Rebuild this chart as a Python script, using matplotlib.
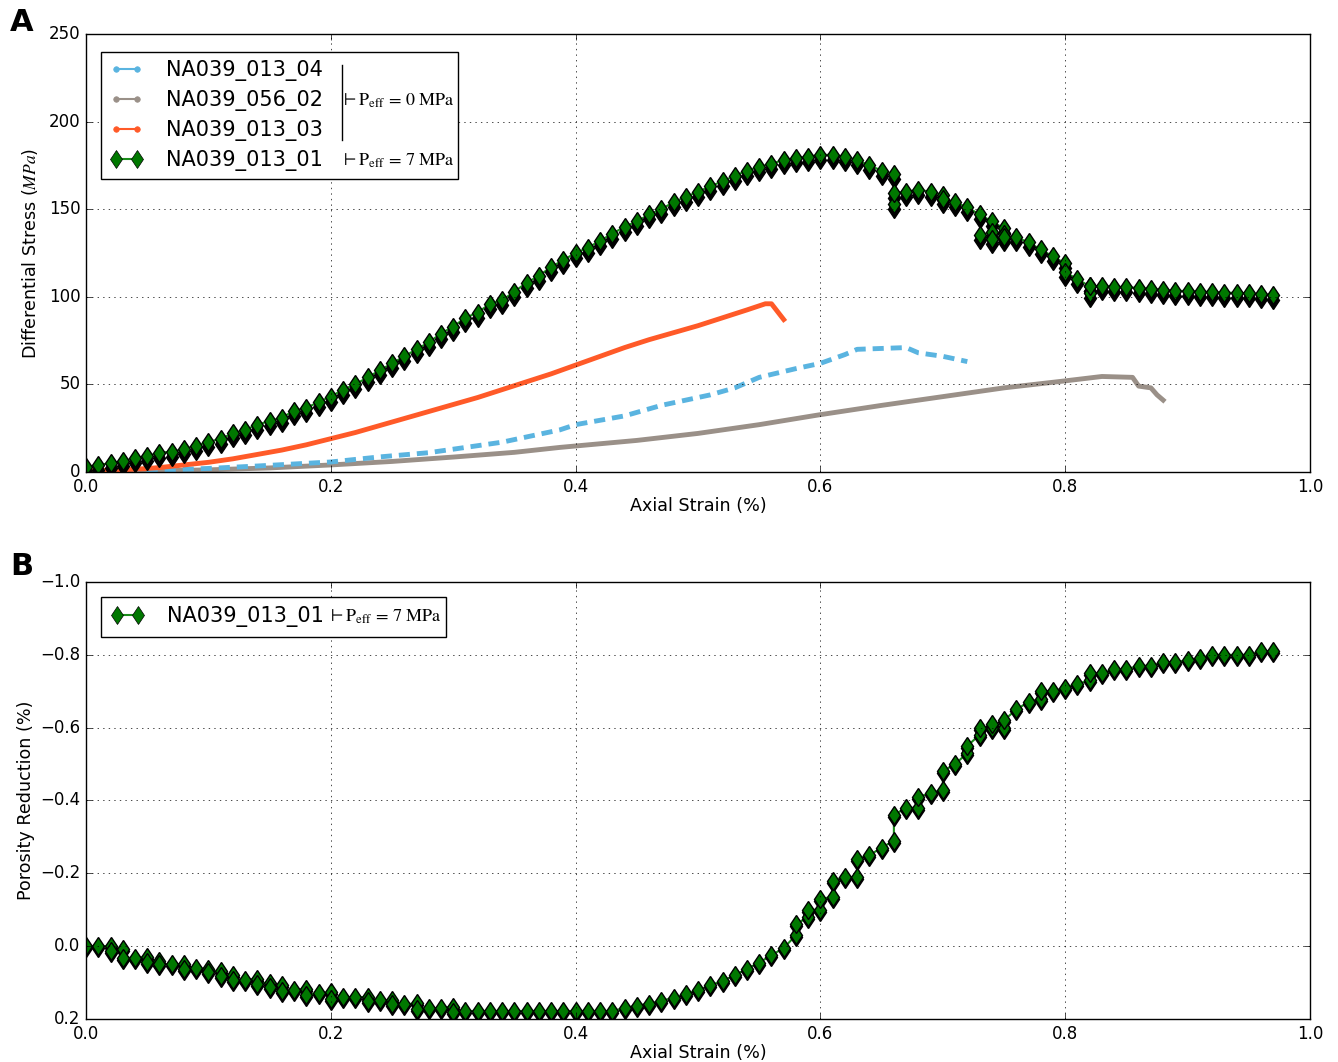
import matplotlib
matplotlib.use('Agg')
import matplotlib.pyplot as plt
from matplotlib.lines import Line2D
from matplotlib.patches import Rectangle
from matplotlib.transforms import ScaledTranslation, Bbox

plt.style.use('classic')
plt.rcParams['figure.facecolor'] = 'white'
plt.rcParams['savefig.facecolor'] = 'white'
plt.rcParams['mathtext.fontset'] = 'stix'

# --- NA039_013_01 (Peff = 7 MPa), stress vs strain ---
strain_01 = [i / 100 for i in range(66)] + [
    0.66, 0.66, 0.66, 0.67, 0.68, 0.69, 0.70, 0.70, 0.71, 0.72, 0.73, 0.74, 0.75,
    0.75, 0.74, 0.73, 0.74, 0.75, 0.76, 0.77, 0.78, 0.79, 0.80, 0.80, 0.81, 0.82,
    0.82, 0.82, 0.83, 0.84, 0.85, 0.86, 0.87, 0.88, 0.89, 0.90, 0.91, 0.92, 0.93,
    0.94, 0.95, 0.96, 0.97]
stress_01 = [
    2.9, 4, 5, 6, 8, 9, 11, 11.6, 13, 15, 17, 19, 22, 24, 27, 29, 31, 35, 36.5, 40,
    43, 47, 50, 54, 58, 62, 66, 70, 74, 79, 83, 88, 91, 96, 98, 103, 108, 112, 117,
    121, 125, 128, 132, 136, 140, 143, 147, 150, 154, 157, 160, 163, 166, 169, 172,
    174, 176, 178, 179, 180, 181, 181, 180, 178, 175, 172,
    170, 153, 159, 160, 161, 160, 158, 156, 154, 151, 147, 143, 139,
    136, 137, 135, 133, 134, 134, 131, 127, 123, 119, 114, 110, 106,
    102, 106, 106, 105.8, 105.5, 105, 104.5, 104, 103.5, 103.2, 103, 102.7, 102.4,
    102.2, 102, 101.5, 101]

# --- NA039_013_03 (Peff = 0 MPa) ---
strain_03 = [0.0, 0.02, 0.04, 0.06, 0.08, 0.10, 0.12, 0.14, 0.16, 0.18, 0.20, 0.22,
             0.24, 0.26, 0.28, 0.30, 0.32, 0.34, 0.36, 0.38, 0.40, 0.42, 0.44, 0.46,
             0.48, 0.50, 0.52, 0.54, 0.555, 0.56, 0.57]
stress_03 = [0.5, 1, 1.5, 2.5, 4, 5.5, 7.5, 10, 12.5, 15.5, 19, 22.5, 26.5, 30.5,
             34.5, 38.5, 42.5, 47, 51.5, 56, 61, 66, 71, 75.5, 79.5, 83.5, 88, 92.5,
             96, 96, 87]

# --- NA039_013_04 (Peff = 0 MPa) ---
strain_04 = [0.02, 0.06, 0.10, 0.14, 0.20, 0.24, 0.28, 0.30, 0.32, 0.34, 0.36, 0.387,
             0.40, 0.44, 0.47, 0.51, 0.53, 0.55, 0.58, 0.60, 0.62, 0.63, 0.67, 0.68,
             0.70, 0.72]
stress_04 = [0.3, 1, 2, 3.4, 5.7, 8.6, 11, 13, 15, 17, 20, 24, 27, 32, 38, 44, 48,
             54, 59, 62, 67, 70, 71, 68, 66, 63]

# --- NA039_056_02 (Peff = 0 MPa) ---
strain_02 = [0.0, 0.05, 0.10, 0.15, 0.20, 0.25, 0.30, 0.35, 0.387, 0.45, 0.50, 0.55,
             0.598, 0.65, 0.70, 0.75, 0.80, 0.83, 0.855, 0.86, 0.87, 0.875, 0.88]
stress_02 = [0, 0.5, 1.2, 2.3, 4, 6, 8.5, 11.2, 14, 18, 22, 27, 32.5, 38, 43, 48, 52,
             54.5, 54, 49, 48, 44, 41]

# --- NA039_013_01 porosity reduction ---
strain_por = [
    0.00, 0.01, 0.02, 0.02, 0.03, 0.03, 0.04, 0.05, 0.05, 0.06, 0.06, 0.07, 0.08,
    0.08, 0.09, 0.10, 0.10, 0.11, 0.11, 0.12, 0.12, 0.13, 0.14, 0.14, 0.15, 0.15,
    0.16, 0.16, 0.17, 0.18, 0.18, 0.19, 0.20, 0.20, 0.21, 0.22, 0.23, 0.23, 0.24,
    0.25, 0.25, 0.26, 0.27, 0.27, 0.28, 0.29, 0.30, 0.30, 0.31, 0.32, 0.33, 0.34,
    0.35, 0.36, 0.37, 0.38, 0.39, 0.40, 0.41, 0.42, 0.43, 0.44, 0.45, 0.46, 0.47,
    0.48, 0.49, 0.50, 0.51, 0.52, 0.53, 0.54, 0.55, 0.56, 0.57, 0.58, 0.58, 0.59,
    0.59, 0.60, 0.60, 0.61, 0.61, 0.62, 0.63, 0.63, 0.64, 0.65, 0.66, 0.66, 0.67,
    0.68, 0.68, 0.69, 0.70, 0.70, 0.71, 0.72, 0.72, 0.73, 0.73, 0.74, 0.74, 0.75,
    0.75, 0.76, 0.77, 0.78, 0.78, 0.79, 0.80, 0.81, 0.82, 0.82, 0.83, 0.84, 0.85,
    0.86, 0.87, 0.88, 0.89, 0.90, 0.91, 0.92, 0.93, 0.94, 0.95, 0.96, 0.97]
porosity = [
    0.0, 0.0, 0.0, 0.012, 0.007, 0.032, 0.032, 0.03, 0.044, 0.04, 0.048, 0.05, 0.05,
    0.062, 0.061, 0.062, 0.071, 0.067, 0.083, 0.08, 0.093, 0.092, 0.09, 0.103, 0.10,
    0.113, 0.108, 0.122, 0.12, 0.117, 0.133, 0.13, 0.126, 0.145, 0.14, 0.14, 0.14,
    0.15, 0.148, 0.148, 0.16, 0.16, 0.157, 0.172, 0.17, 0.17, 0.166, 0.182, 0.178,
    0.178, 0.178, 0.178, 0.178, 0.178, 0.178, 0.178, 0.178, 0.178, 0.178, 0.178,
    0.178, 0.17, 0.163, 0.158, 0.15, 0.142, 0.132, 0.12, 0.108, 0.095, 0.08, 0.062,
    0.045, 0.025, 0.005, -0.03, -0.06, -0.08, -0.1, -0.1, -0.13, -0.135, -0.18,
    -0.19, -0.19, -0.24, -0.25, -0.27, -0.29, -0.36, -0.38, -0.38, -0.41, -0.42,
    -0.43, -0.48, -0.5, -0.53, -0.55, -0.58, -0.6, -0.6, -0.61, -0.6, -0.62, -0.65,
    -0.67, -0.68, -0.7, -0.7, -0.71, -0.72, -0.73, -0.75, -0.75, -0.76, -0.76,
    -0.77, -0.77, -0.78, -0.78, -0.785, -0.79, -0.8, -0.8, -0.8, -0.8, -0.81, -0.81]

names = ['NA039_013_04', 'NA039_056_02', 'NA039_013_03', 'NA039_013_01']
peff_0 = r'$\vdash\mathrm{P_{eff}}\,=\,0\ \mathrm{MPa}$'
peff_7 = r'$\vdash\mathrm{P_{eff}}\,=\,7\ \mathrm{MPa}$'

c_blue = '#5ab4e0'
c_grey = '#9a9088'
c_orange = '#ff5a28'
c_green = '#1a8c1a'
c_fill = '#007800'

fig = plt.figure(figsize=(13.38, 10.62), dpi=100)
ax1 = fig.add_axes([0.0643, 0.5556, 0.9148, 0.4124])
ax2 = fig.add_axes([0.0643, 0.0405, 0.9148, 0.4115])


def diamonds(ax, x, y, drop):
    # black copy shifted down a little under the green markers
    shift = ax.transData + ScaledTranslation(0, -drop / 100, fig.dpi_scale_trans)
    ax.plot(x, y, ls='none', marker='d', ms=9.5, mfc='k', mec='k', mew=1,
            transform=shift)
    ax.plot(x, y, ls='none', marker='d', ms=9.5, mfc=c_fill, mec='k', mew=1)


# panel A
ax1.plot(strain_02, stress_02, color=c_grey, lw=3.5)
ax1.plot(strain_04, stress_04, color=c_blue, lw=3.5, dashes=(8, 5))
ax1.plot(strain_03, stress_03, color=c_orange, lw=3.5)
ax1.plot(strain_01, stress_01, color=c_green, lw=1.5)
diamonds(ax1, strain_01, stress_01, 5)
ax1.set_xlim(0, 1.0)
ax1.set_ylim(0, 250)
ax1.set_xticks([0.0, 0.2, 0.4, 0.6, 0.8, 1.0])
ax1.set_yticks([0, 50, 100, 150, 200, 250])
ax1.grid(True, ls=':', color='k')
ax1.set_xlabel('Axial Strain (%)', fontsize=12.6)
ax1.set_ylabel('Differential Stress ($MPa$)', fontsize=12.6)
ax1.yaxis.set_label_coords(-0.0376, 0.5)
ax1.xaxis.set_label_coords(0.5, -0.057)

h_dot = [Line2D([], [], color=c, lw=1.5, marker='o', ms=4, mec=c)
         for c in (c_blue, c_grey, c_orange)]
h_dia = Line2D([], [], color=c_green, lw=1.5, marker='d', ms=9.5, mfc=c_fill, mec='k')

# legends drawn without their own frame; one frame is drawn later around
# the names and the Peff notes together
leg_a = ax1.legend(h_dot + [h_dia], names, loc='upper left',
                   bbox_to_anchor=(0.0123, 0.959), borderaxespad=0, fontsize=15,
                   numpoints=2, handlelength=1.6, handletextpad=1.1,
                   labelspacing=0.43, borderpad=0.4, frameon=False)

# panel B
ax2.plot(strain_por, porosity, color=c_green, lw=1.5)
diamonds(ax2, strain_por, porosity, 2)
ax2.set_xlim(0, 1.0)
ax2.set_ylim(0.2, -1.0)
ax2.set_xticks([0.0, 0.2, 0.4, 0.6, 0.8, 1.0])
ax2.set_yticks([0.2, 0.0, -0.2, -0.4, -0.6, -0.8, -1.0])
ax2.grid(True, ls=':', color='k')
ax2.set_xlabel('Axial Strain (%)', fontsize=12.6)
ax2.set_ylabel('Porosity Reduction (%)', fontsize=12.6)
ax2.yaxis.set_label_coords(-0.042, 0.5)
ax2.xaxis.set_label_coords(0.5, -0.057)
leg_b = ax2.legend([h_dia], [names[3]], loc='upper left',
                   bbox_to_anchor=(0.0123, 0.966), borderaxespad=0, fontsize=15,
                   numpoints=2, handlelength=1.6, handletextpad=1.1, borderpad=0.45,
                   frameon=False)

fig.text(0.0075, 0.979, 'A', fontsize=22, weight='bold', va='center')
fig.text(0.0075, 0.467, 'B', fontsize=22, weight='bold', va='center')

fig.canvas.draw()
r = fig.canvas.get_renderer()


def note(ax, text_obj, s, gap):
    b = text_obj.get_window_extent(r)
    t = ax.text(b.x1 + gap, (b.y0 + b.y1) / 2, s, fontsize=13, va='center',
                ha='left', transform=None, zorder=7, clip_on=False)
    return t


def frame(ax, leg, notes, right_pad):
    boxes = [leg.get_window_extent(r)] + [t.get_window_extent(r) for t in notes]
    bb = Bbox.union(boxes)
    lb = leg.get_window_extent(r)
    ax.add_patch(Rectangle((lb.x0, lb.y0), bb.x1 + right_pad - lb.x0, lb.height,
                           transform=None, facecolor='white', edgecolor='k',
                           lw=1, zorder=4.9, clip_on=False))


ta = leg_a.get_texts()
n0 = note(ax1, ta[1], peff_0, 18)
n7 = note(ax1, ta[3], peff_7, 18)
frame(ax1, leg_a, [n0, n7], 4)
nb = note(ax2, leg_b.get_texts()[0], peff_7, 4)
frame(ax2, leg_b, [nb], 5)

# bracket joining the three unconfined samples
x_br = n0.get_window_extent(r).x0 + 1.5
y_top = sum(ta[0].get_window_extent(r).intervaly) / 2 + 6
y_bot = sum(ta[2].get_window_extent(r).intervaly) / 2 - 9
ax1.add_line(Line2D([x_br, x_br], [y_bot, y_top], color='k', lw=1, transform=None,
                    zorder=7, clip_on=False))

fig.savefig('out.png', dpi=100)
